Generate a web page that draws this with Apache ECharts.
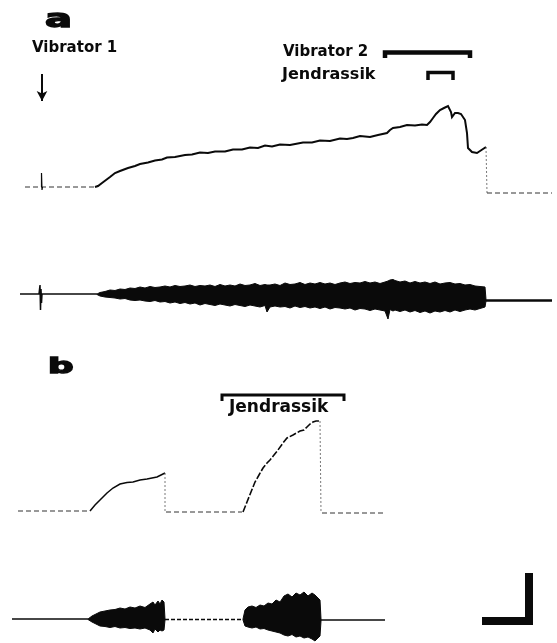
<!DOCTYPE html>
<html><head><meta charset="utf-8">
<script src="https://cdn.jsdelivr.net/npm/echarts@6/dist/echarts.min.js"></script>
<style>html,body{margin:0;padding:0;background:#fff}#c{width:557px;height:643px}</style>
</head><body><div id="c"></div><script>
// ---------- DATA (time in s, force in arbitrary units, EMG in arbitrary units) ----------
// Panel a, force trace
const forceATime  = [9.5,9.8,10.2,10.6,11.0,11.5,12.0,12.8,13.5,14.0,14.8,15.5,16.2,16.7,17.5,18.5,19.2,20.0,20.8,21.5,22.5,23.3,24.2,25.0,25.8,26.5,27.2,28.0,29.0,30.3,31.2,32.0,33.0,34.0,34.7,35.3,36.0,37.0,37.8,38.7,39.0,39.3,40.0,40.7,41.5,42.2,42.7,43.0,43.3,43.6,44.0,44.4,44.8,45.0,45.1,45.2,45.5,45.8,46.1,46.5,46.7,46.8,47.2,47.7,48.0,48.3,48.6];
const forceAValue = [0.3,0.4,0.7,1.0,1.3,1.7,1.9,2.2,2.4,2.6,2.75,2.95,3.05,3.25,3.3,3.5,3.55,3.75,3.7,3.85,3.85,4.05,4.05,4.25,4.2,4.45,4.35,4.55,4.5,4.75,4.75,4.95,4.9,5.15,5.1,5.2,5.4,5.3,5.5,5.7,6.0,6.2,6.3,6.5,6.45,6.55,6.5,6.8,7.2,7.6,8.0,8.2,8.4,8.3,7.8,7.3,7.7,7.7,7.6,7.0,5.7,4.2,3.8,3.7,3.9,4.1,4.3];
const forceABaseBefore = [[2.5,0.3],[9.5,0.3]];
const forceASpike = [[4.15,0.3],[4.15,1.7],[4.2,0.0],[4.25,0.3]];
const forceADrop = [[48.6,4.3],[48.7,-0.3]];
const forceABaseAfter = [[48.7,-0.3],[55.2,-0.3]];
const vibrator1Arrow = [[4.2,11.6],[4.2,8.9]];
const vibrator2Bar = [[38.5,13.2],[38.5,13.75],[47.0,13.75],[47.0,13.2]];
const jendrassikABar = [[42.8,11.0],[42.8,11.75],[45.3,11.75],[45.3,11.0]];

// Panel a, EMG envelope
const emgATime  = [9.7,10.0,10.5,11.0,11.5,12.0,12.5,13.0,13.5,14.0,14.5,15.0,15.5,16.0,16.5,17.0,17.5,18.0,18.5,19.0,19.5,20.0,20.5,21.0,21.5,22.0,22.5,23.0,23.5,24.0,24.5,25.0,25.5,26.0,26.5,26.7,27.0,27.5,28.0,28.5,29.0,29.5,30.0,30.5,31.0,31.5,32.0,32.5,33.0,33.5,34.0,34.5,35.0,35.5,36.0,36.5,37.0,37.5,38.0,38.5,38.8,39.0,39.3,39.5,40.0,40.5,41.0,41.5,42.0,42.5,43.0,43.5,44.0,44.5,45.0,45.5,46.0,46.5,47.0,47.5,48.0,48.5,48.6];
const emgAUpper = [1,2.5,3.5,5,4.5,6,5.5,7,6.5,8,7,8.5,7.5,8,9,8,9.5,8.5,9,10,8.5,9.5,9,10,8.5,10.5,9,10,9,11,9.5,10,11.5,9.5,10.5,10,10,11,9.5,12,10.5,11,12.5,10.5,12,11,12.5,11,12,10.5,12,13,11.5,12.5,12,13.5,12,13,11.5,13,14,15,15.5,14.5,13,14,12,13.5,12,13,11.5,13,11,12,12.5,11,11.5,10,10.5,9,8.5,8,-4.5];
const emgALower = [0.5,-1,-2,-2.5,-3,-4,-3.5,-5,-5.5,-5,-6,-6.5,-5.5,-7,-6.5,-8,-7,-8.5,-7.5,-9,-8,-10,-8.5,-9.5,-10.5,-9,-10,-11,-9.5,-10.5,-11.5,-10,-11,-12,-10.5,-17,-12,-11,-12,-11.5,-13,-11,-12.5,-11.5,-13,-12,-13.5,-12,-14,-12.5,-13,-14,-13,-15,-13.5,-14,-15.5,-14,-15,-16,-24,-14.5,-16,-15,-16.5,-15,-17,-15.5,-17.5,-16,-18,-16,-17,-15.5,-17,-15,-16.5,-15,-14,-15,-13.5,-12,-6];
const emgABaseBefore = [[2.0,1],[9.7,1]];
const emgASpike = [[3.9,1],[4.0,10],[4.05,-15],[4.1,6],[4.15,-8],[4.2,1]];
const emgABaseAfter = [[48.6,-5.5],[55.2,-5.5]];

// Panel b, force trace
const forceBBaseBefore = [[1.8,0.4],[9.0,0.4]];
const forceB1Time  = [9.0,9.5,10.0,10.7,11.3,12.0,12.7,13.3,14.0,14.7,15.2,15.7,16.1,16.5];
const forceB1Value = [0.4,1.0,1.5,2.2,2.7,3.1,3.25,3.3,3.5,3.6,3.7,3.8,4.0,4.2];
const forceBDrop1 = [[16.5,4.2],[16.5,0.3]];
const forceBBaseMid = [[16.6,0.3],[24.2,0.3]];
const forceB2Time  = [24.3,24.7,25.1,25.5,25.9,26.3,26.7,27.0,27.4,27.8,28.3,28.7,29.3,30.0,30.4,30.7,31.0,31.3,31.6,31.8,32.0];
const forceB2Value = [0.3,1.3,2.3,3.3,4.0,4.7,5.2,5.5,6.0,6.5,7.2,7.7,8.0,8.4,8.5,8.8,9.1,9.3,9.4,9.5,9.4];
const forceBDrop2 = [[32.0,9.4],[32.1,0.2]];
const forceBBaseAfter = [[32.2,0.2],[38.3,0.2]];
const jendrassikBBar = [[22.2,11.4],[22.2,12.0],[34.4,12.0],[34.4,11.4]];

// Panel b, EMG envelopes
const emgB1Time  = [8.8,9.2,9.6,10.0,10.5,11.0,11.5,12.0,12.5,13.0,13.5,14.0,14.5,15.0,15.3,15.5,15.8,16.0,16.2,16.4,16.5];
const emgB1Upper = [1,4,6,8,9,10,10.5,12,11,13,12,14,12.5,16,18,15,19,16,20,18,1];
const emgB1Lower = [0.5,-2,-4,-6,-6.5,-7.5,-6.5,-8,-7.5,-8.5,-8,-9,-8,-10,-13,-9,-12,-10,-11,-10,0];
const emgB2Time  = [24.3,24.5,24.8,25.2,25.6,26.0,26.4,26.8,27.2,27.6,28.0,28.4,28.8,29.2,29.6,30.0,30.4,30.8,31.2,31.5,31.8,32.0,32.1];
const emgB2Upper = [1,10,13,14,12.5,15,14,17,16,20,18,24,26,23,27,25,28,24,27,25,22,20,1];
const emgB2Lower = [0,-6,-7,-8,-7,-9,-8.5,-10,-11,-12,-13,-15,-16,-14.5,-17,-16,-18,-17,-19,-21,-18,-16,-1];
const emgBBaseBefore = [[1.2,1],[8.8,1]];
const emgBBaseMid = [[16.5,0.5],[24.3,0.5]];
const emgBBaseAfter = [[32.1,0],[38.5,0]];
// Calibration bar (time / amplitude)
const scaleBar = [[48.2,-1],[52.9,-1],[52.9,47]];

// ---------- BUILD ----------
const zip = (t, v) => t.map((x, i) => [x, v[i]]);
const INK = '#0a0a0a';
function line(grid, data, width, type, color) {
  return { type: 'line', xAxisIndex: grid, yAxisIndex: grid, data: data, symbol: 'none',
    silent: true, animation: false, clip: false,
    lineStyle: { color: color || INK, width: width, type: type || 'solid', join: 'miter', cap: 'butt' } };
}
function band(grid, t, up, lo) {
  return { type: 'custom', xAxisIndex: grid, yAxisIndex: grid, silent: true, animation: false,
    data: [[t[0], 0]],
    renderItem: function (params, api) {
      const pts = [];
      for (let i = 0; i < t.length; i++) pts.push(api.coord([t[i], up[i]]));
      for (let i = t.length - 1; i >= 0; i--) pts.push(api.coord([t[i], lo[i]]));
      return { type: 'polygon', shape: { points: pts }, style: { fill: INK, stroke: INK, lineWidth: 1 } };
    } };
}
const grids = [
  { left: 0, top: 40, width: 557, height: 160, outerBoundsMode: 'none', containLabel: false },
  { left: 0, top: 265, width: 557, height: 60, outerBoundsMode: 'none', containLabel: false },
  { left: 0, top: 385, width: 557, height: 140, outerBoundsMode: 'none', containLabel: false },
  { left: 0, top: 565, width: 557, height: 110, outerBoundsMode: 'none', containLabel: false }
];
const yr = [[-1, 15], [-30, 30], [-1, 13], [-55, 55]];
const dashed = [5, 3];
const arrowSeries = line(0, [], 1);
arrowSeries.markLine = { silent: true, animation: false, symbol: ['none', 'arrow'], symbolSize: [8, 10],
  label: { show: false }, lineStyle: { color: INK, width: 2, type: 'solid' },
  data: [[{ coord: vibrator1Arrow[0] }, { coord: vibrator1Arrow[1] }]] };

const font = (s) => 'bold ' + s + 'px "DejaVu Sans"';
function txt(x, y, s, size, extra) {
  return Object.assign({ type: 'text', x: x, y: y, silent: true,
    style: { text: s, font: font(size), fill: INK, align: 'left', verticalAlign: 'middle' } }, extra || {});
}

const option = {
  backgroundColor: '#fff',
  animation: false,
  grid: grids,
  xAxis: grids.map((g, i) => ({ type: 'value', gridIndex: i, min: 0, max: 55.7, show: false })),
  yAxis: grids.map((g, i) => ({ type: 'value', gridIndex: i, min: yr[i][0], max: yr[i][1], show: false })),
  series: [
    // panel a force
    line(0, forceABaseBefore, 1, dashed, '#333'),
    line(0, forceASpike, 1.2),
    line(0, zip(forceATime, forceAValue), 2),
    line(0, forceADrop, 0.8, [2, 2], '#555'),
    line(0, forceABaseAfter, 1, dashed, '#333'),
    line(0, vibrator2Bar, 4.5),
    line(0, jendrassikABar, 3.5),
    arrowSeries,
    // panel a EMG
    line(1, emgABaseBefore, 1.5),
    line(1, emgASpike, 1.5),
    band(1, emgATime, emgAUpper, emgALower),
    line(1, emgABaseAfter, 2.5),
    // panel b force
    line(2, forceBBaseBefore, 1.2, dashed, '#333'),
    line(2, zip(forceB1Time, forceB1Value), 1.5),
    line(2, forceBDrop1, 0.8, [2, 2], '#555'),
    line(2, forceBBaseMid, 1, dashed, '#333'),
    line(2, zip(forceB2Time, forceB2Value), 1.6, [7, 2]),
    line(2, forceBDrop2, 0.8, [2, 2], '#555'),
    line(2, forceBBaseAfter, 1, dashed, '#333'),
    line(2, jendrassikBBar, 3),
    // panel b EMG
    line(3, emgBBaseBefore, 1.5),
    band(3, emgB1Time, emgB1Upper, emgB1Lower),
    line(3, emgBBaseMid, 1.5, [4, 2]),
    band(3, emgB2Time, emgB2Upper, emgB2Lower),
    line(3, emgBBaseAfter, 1.5),
    line(3, scaleBar, 8)
  ],
  graphic: [
    txt(45, 20, 'a', 25, { scaleX: 1.6, style: { text: 'a', font: font(25), fill: INK, stroke: INK, lineWidth: 1.4, lineJoin: 'round', align: 'left', verticalAlign: 'middle' } }),
    txt(48, 368, 'b', 21, { scaleX: 1.7, style: { text: 'b', font: font(21), fill: INK, stroke: INK, lineWidth: 1.4, lineJoin: 'round', align: 'left', verticalAlign: 'middle' } }),
    txt(32, 48.5, 'Vibrator 1', 15),
    txt(283, 52.5, 'Vibrator 2', 15),
    txt(282, 75, 'Jendrassik', 16),
    txt(229, 407.5, 'Jendrassik', 17)
  ]
};
const chart = echarts.init(document.getElementById('c'), null, { renderer: 'canvas' });
chart.setOption(option);
</script></body></html>
